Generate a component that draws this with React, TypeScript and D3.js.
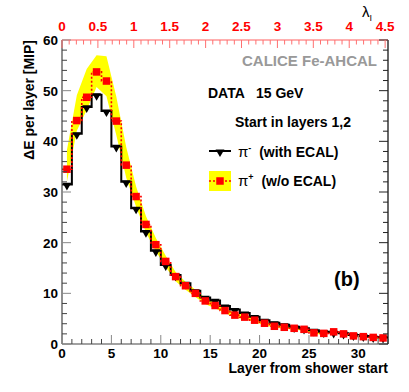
import React from 'react';
import * as d3 from 'd3';

// layer index (bin low edge), one bin per layer
const layers = [0, 1, 2, 3, 4, 5, 6, 7, 8, 9, 10, 11, 12, 13, 14, 15, 16, 17, 18, 19, 20, 21, 22, 23, 24, 25, 26, 27, 28, 29, 30, 31, 32];

// pi- (with ECAL), black histogram
const piMinus = [31.5, 41.5, 46.8, 49.2, 46.0, 39.0, 32.0, 26.8, 22.2, 18.4, 15.6, 13.6, 12.0, 10.5, 9.2, 8.6, 7.5, 6.8, 6.1, 5.4, 4.7, 4.2, 3.8, 3.4, 3.1, 2.7, 2.4, 2.3, 2.1, 1.8, 1.6, 1.4, 1.3];

// pi+ (w/o ECAL), red points + yellow band
const piPlus = [34.5, 44.1, 48.7, 53.7, 51.9, 44.0, 35.3, 29.1, 23.6, 19.6, 16.3, 13.3, 11.5, 10.0, 8.5, 7.6, 6.6, 5.7, 5.3, 4.7, 4.1, 3.5, 3.3, 3.1, 2.9, 2.2, 2.1, 2.4, 2.0, 1.6, 1.45, 1.3, 1.2];
const piPlusErrUp = [3.8, 5.0, 5.6, 3.3, 4.9, 4.8, 3.6, 2.0, 1.6, 1.3, 1.1, 0.9, 0.8, 0.7, 0.6, 0.5, 0.5, 0.4, 0.4, 0.4, 0.3, 0.3, 0.3, 0.3, 0.3, 0.2, 0.2, 0.2, 0.2, 0.2, 0.2, 0.2, 0.2];
const piPlusErrDown = [2.5, 2.0, 2.5, 3.0, 3.0, 2.8, 2.5, 2.0, 1.6, 1.3, 1.1, 0.9, 0.8, 0.7, 0.6, 0.6, 0.5, 0.5, 0.4, 0.4, 0.4, 0.3, 0.3, 0.3, 0.3, 0.3, 0.2, 0.2, 0.2, 0.2, 0.2, 0.2, 0.2];

const xTickLabels = [0, 5, 10, 15, 20, 25, 30];
const yTickLabels = [0, 10, 20, 30, 40, 50, 60];
const lambdaTickLabels = [0, 0.5, 1, 1.5, 2, 2.5, 3, 3.5, 4, 4.5];

const W = 409;
const H = 392;
const FONT = '"Liberation Sans", Arial, Helvetica, sans-serif';

export default function App() {
  const x = d3.scaleLinear().domain([0, 33]).range([62, 388]);
  const y = d3.scaleLinear().domain([0, 60]).range([344, 40]);
  const lam = d3.scaleLinear().domain([0, 4.54]).range([62, 388]);

  const stepPoints = (vals: number[]) => {
    const pts: [number, number][] = [];
    layers.forEach((l, i) => {
      pts.push([x(l), y(vals[i])]);
      pts.push([x(l + 1), y(vals[i])]);
    });
    return pts;
  };
  const line = d3.line();

  const band = d3
    .area<number>()
    .x((l) => x(l + 0.5))
    .y0((l, i) => y(piPlus[i] - piPlusErrDown[i]))
    .y1((l, i) => y(piPlus[i] + piPlusErrUp[i]));

  const tri = d3.symbol(d3.symbolTriangle, 34)();
  const sq = 7.5;

  const xMinor = d3.range(0, 34, 1);
  const yMinor = d3.range(0, 61, 2);
  const lamMinor = d3.range(0, 4.55, 0.1);

  return (
    <svg width={W} height={H} style={{ position: 'absolute', left: 0, top: 0, background: '#fff' }} fontFamily={FONT}>
      {/* yellow band */}
      <path d={band(layers) || ''} fill="#ffff00" stroke="none" />

      {/* pi- histogram */}
      <path d={line(stepPoints(piMinus)) || ''} fill="none" stroke="#000" strokeWidth={2} />
      {layers.map((l, i) => (
        <path key={'t' + i} d={tri || ''} transform={`translate(${x(l + 0.5)},${y(piMinus[i]) + 1}) rotate(180)`} fill="#000" />
      ))}

      {/* pi+ dotted histogram + squares */}
      <path d={line(stepPoints(piPlus)) || ''} fill="none" stroke="#ff0000" strokeWidth={1.6} strokeDasharray="2,2" />
      {layers.map((l, i) => (
        <rect key={'s' + i} x={x(l + 0.5) - sq / 2} y={y(piPlus[i]) - sq / 2} width={sq} height={sq} fill="#ff0000" />
      ))}

      {/* frame */}
      <line x1={62} x2={62} y1={40} y2={344} stroke="#444" strokeWidth={1.2} />
      <line x1={62} x2={388} y1={344} y2={344} stroke="#444" strokeWidth={1.2} />
      <line x1={388} x2={388} y1={40} y2={344} stroke="#000" strokeWidth={1.2} />
      <line x1={62} x2={388} y1={40} y2={40} stroke="#ff6060" strokeWidth={1.2} />

      {/* bottom ticks */}
      {xMinor.map((v) => {
        const major = v % 5 === 0;
        return <line key={'xb' + v} x1={x(v)} x2={x(v)} y1={344} y2={344 - (major ? 9 : 5)} stroke={major ? '#888' : '#444'} strokeWidth={1} />;
      })}
      {xTickLabels.map((v) => (
        <text key={'xl' + v} x={x(v)} y={358} textAnchor="middle" fontSize={13.5} fontWeight="bold">{v}</text>
      ))}

      {/* left + right ticks */}
      {yMinor.map((v) => {
        const major = v % 10 === 0;
        const len = major ? 9 : 5;
        return (
          <g key={'yt' + v}>
            <line x1={62} x2={62 + len} y1={y(v)} y2={y(v)} stroke={major ? '#888' : '#444'} strokeWidth={1} />
            <line x1={388} x2={388 - len} y1={y(v)} y2={y(v)} stroke="#222" strokeWidth={1} />
          </g>
        );
      })}
      {yTickLabels.map((v) => (
        <text key={'yl' + v} x={58} y={y(v) + 5} textAnchor="end" fontSize={13.5} fontWeight="bold">{v}</text>
      ))}

      {/* top lambda axis */}
      {lamMinor.map((v, i) => {
        const major = i % 5 === 0;
        return <line key={'lt' + i} x1={lam(v)} x2={lam(v)} y1={40} y2={40 + (major ? 8 : 4.5)} stroke="#ff7070" strokeWidth={1} />;
      })}
      {lambdaTickLabels.map((v) => (
        <text key={'ll' + v} x={lam(v)} y={31} textAnchor="middle" fontSize={13.5} fontWeight="bold" fill="#ff0000">{v}</text>
      ))}
      <text x={362} y={17} fontSize={15}>
        λ<tspan fontSize={9} dy={4}>I</tspan>
      </text>

      {/* axis titles */}
      <text x={388} y={373} textAnchor="end" fontSize={14} fontWeight="bold">Layer from shower start</text>
      <text transform="translate(34,40) rotate(-90)" textAnchor="end" fontSize={14} fontWeight="bold">ΔE per layer [MIP]</text>

      {/* annotations */}
      <text x={377} y={66} textAnchor="end" fontSize={15} fontWeight="bold" fill="#999">CALICE Fe-AHCAL</text>
      <text x={208} y={98} fontSize={14} fontWeight="bold" style={{ whiteSpace: 'pre' }}>DATA   15 GeV</text>
      <text x={235} y={127} fontSize={14} fontWeight="bold">Start in layers 1,2</text>

      {/* legend */}
      <line x1={209} x2={231} y1={151} y2={151} stroke="#000" strokeWidth={2} />
      <path d={tri || ''} transform="translate(220,152) rotate(180)" fill="#000" />
      <text x={238} y={157} fontSize={14} fontWeight="bold">
        <tspan fontWeight="normal" fontSize={15}>π</tspan>
        <tspan fontSize={9} dy={-6}>-</tspan>
        <tspan dy={6} style={{ whiteSpace: 'pre' }}>  (with ECAL)</tspan>
      </text>
      <rect x={209} y={171} width={22} height={20} fill="#ffff00" />
      <line x1={209} x2={231} y1={181} y2={181} stroke="#ff0000" strokeWidth={1.6} strokeDasharray="2,2" />
      <rect x={220 - sq / 2} y={181 - sq / 2} width={sq} height={sq} fill="#ff0000" />
      <text x={238} y={186} fontSize={14} fontWeight="bold">
        <tspan fontWeight="normal" fontSize={15}>π</tspan>
        <tspan fontSize={9} dy={-6}>+</tspan>
        <tspan dy={6} style={{ whiteSpace: 'pre' }}>  (w/o ECAL)</tspan>
      </text>

      <text x={334} y={286} fontSize={20} fontWeight="bold">(b)</text>
    </svg>
  );
}
